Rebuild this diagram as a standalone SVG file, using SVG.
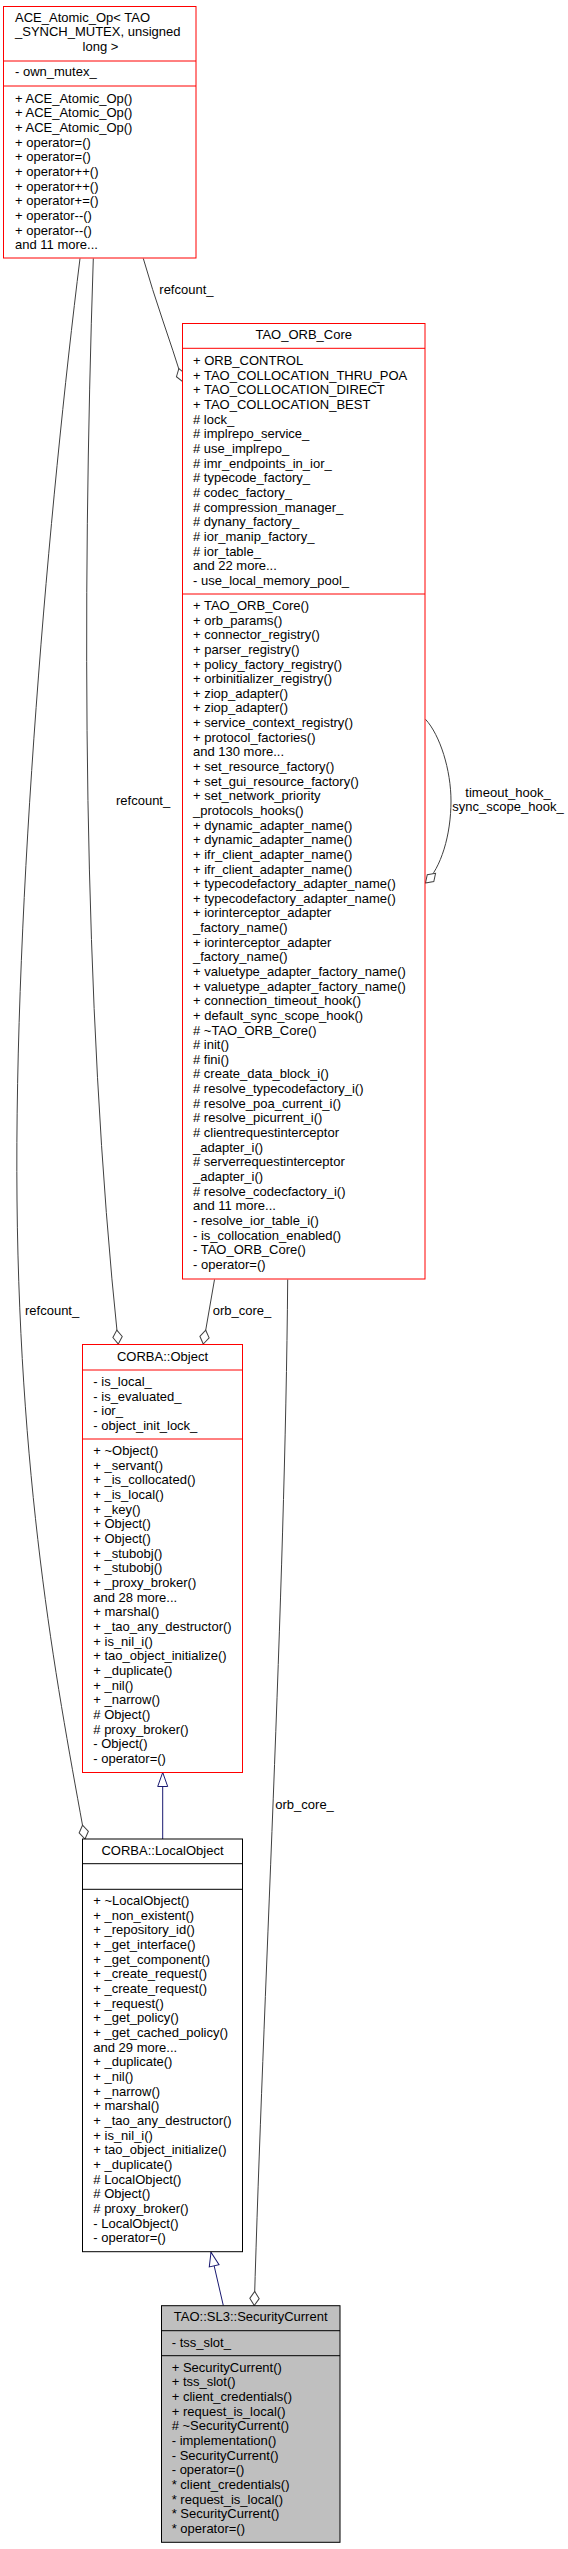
<svg xmlns="http://www.w3.org/2000/svg" width="568" height="2549" viewBox="0 0 568 2549">
<defs>
<style>
.t{font-family:"Liberation Sans",Arial,sans-serif;font-size:13px;fill:#000}
.c{text-anchor:middle}
.red{fill:#fff;stroke:#ff0000;stroke-width:1}
.redl{stroke:#ff0000;stroke-width:1}
.blk{fill:#fff;stroke:#000;stroke-width:1}
.gry{fill:#bfbfbf;stroke:#000;stroke-width:1}
.blkl{stroke:#000;stroke-width:1}
.agg{fill:none;stroke:#404040;stroke-width:1;marker-end:url(#dia)}
.inh{fill:none;stroke:#191970;stroke-width:1;marker-end:url(#tri)}
</style>
<marker id="dia" markerUnits="userSpaceOnUse" markerWidth="16" markerHeight="12" refX="0" refY="0" orient="auto" overflow="visible">
<path d="M0,0 L-7,-4.7 L-14,0 L-7,4.7 Z" fill="#fff" stroke="#404040" stroke-width="1"/>
</marker>
<marker id="tri" markerUnits="userSpaceOnUse" markerWidth="16" markerHeight="12" refX="0" refY="0" orient="auto" overflow="visible">
<path d="M0,0 L-14,-5 L-14,5 Z" fill="#fff" stroke="#191970" stroke-width="1"/>
</marker>
</defs>
<rect x="0" y="0" width="568" height="2549" fill="#fff"/>

<g id="connectors">
<path class="agg" d="M143.3,258.5 C155,300 170,340 183,382"/>
<path class="agg" d="M93.3,258.5 C82,600 82,1000 118.3,1344"/>
<path class="agg" d="M80,258.5 C50,500 14,900 17,1200 C20,1500 60,1700 85,1839"/>
<path class="agg" d="M214.5,1279.5 L203.3,1344"/>
<path class="agg" d="M287.7,1279.5 C285,1600 263,2000 254.3,2305.5"/>
<path class="agg" d="M425.5,719.3 C440,735 451,770 451,801 C451,835 441,868 425.5,883"/>
<path class="inh" d="M162.7,1839 L162.7,1772.5"/>
<path class="inh" d="M223.3,2305.5 L211,2252.2"/>
<text class="t" x="159.3" y="294">refcount_</text>
<text class="t" x="116" y="805">refcount_</text>
<text class="t" x="25" y="1315">refcount_</text>
<text class="t" x="212.7" y="1314.5">orb_core_</text>
<text class="t" x="275.3" y="1809">orb_core_</text>
<text class="t c" x="508" y="796.5">timeout_hook_</text>
<text class="t c" x="508" y="811.2">sync_scope_hook_</text>
</g>

<g id="ace_atomic_op">
<rect class="red" x="3.5" y="6.5" width="192.5" height="251.5"/>
<line class="redl" x1="3.5" y1="61" x2="196" y2="61"/>
<line class="redl" x1="3.5" y1="86" x2="196" y2="86"/>
<text class="t" x="15" y="21.7">ACE_Atomic_Op&lt; TAO</text>
<text class="t" x="15" y="36.4">_SYNCH_MUTEX, unsigned</text>
<text class="t c" x="100.5" y="51">long &gt;</text>
<text class="t" x="15" y="76">- own_mutex_</text>
<text class="t" x="15" y="102.7">+ ACE_Atomic_Op()<tspan x="15" dy="14.67">+ ACE_Atomic_Op()</tspan><tspan x="15" dy="14.67">+ ACE_Atomic_Op()</tspan><tspan x="15" dy="14.67">+ operator=()</tspan><tspan x="15" dy="14.67">+ operator=()</tspan><tspan x="15" dy="14.67">+ operator++()</tspan><tspan x="15" dy="14.67">+ operator++()</tspan><tspan x="15" dy="14.67">+ operator+=()</tspan><tspan x="15" dy="14.67">+ operator--()</tspan><tspan x="15" dy="14.67">+ operator--()</tspan><tspan x="15" dy="14.67">and 11 more...</tspan></text>
</g>

<g id="tao_orb_core">
<rect class="red" x="182.5" y="323.5" width="242.5" height="955.5"/>
<line class="redl" x1="182.5" y1="348.3" x2="425" y2="348.3"/>
<line class="redl" x1="182.5" y1="594" x2="425" y2="594"/>
<text class="t c" x="303.7" y="339">TAO_ORB_Core</text>
<text class="t" x="193" y="365">+ ORB_CONTROL<tspan x="193" dy="14.67">+ TAO_COLLOCATION_THRU_POA</tspan><tspan x="193" dy="14.67">+ TAO_COLLOCATION_DIRECT</tspan><tspan x="193" dy="14.67">+ TAO_COLLOCATION_BEST</tspan><tspan x="193" dy="14.67"># lock_</tspan><tspan x="193" dy="14.67"># implrepo_service_</tspan><tspan x="193" dy="14.67"># use_implrepo_</tspan><tspan x="193" dy="14.67"># imr_endpoints_in_ior_</tspan><tspan x="193" dy="14.67"># typecode_factory_</tspan><tspan x="193" dy="14.67"># codec_factory_</tspan><tspan x="193" dy="14.67"># compression_manager_</tspan><tspan x="193" dy="14.67"># dynany_factory_</tspan><tspan x="193" dy="14.67"># ior_manip_factory_</tspan><tspan x="193" dy="14.67"># ior_table_</tspan><tspan x="193" dy="14.67">and 22 more...</tspan><tspan x="193" dy="14.67">- use_local_memory_pool_</tspan></text>
<text class="t" x="193" y="610">+ TAO_ORB_Core()<tspan x="193" dy="14.64">+ orb_params()</tspan><tspan x="193" dy="14.64">+ connector_registry()</tspan><tspan x="193" dy="14.64">+ parser_registry()</tspan><tspan x="193" dy="14.64">+ policy_factory_registry()</tspan><tspan x="193" dy="14.64">+ orbinitializer_registry()</tspan><tspan x="193" dy="14.64">+ ziop_adapter()</tspan><tspan x="193" dy="14.64">+ ziop_adapter()</tspan><tspan x="193" dy="14.64">+ service_context_registry()</tspan><tspan x="193" dy="14.64">+ protocol_factories()</tspan><tspan x="193" dy="14.64">and 130 more...</tspan><tspan x="193" dy="14.64">+ set_resource_factory()</tspan><tspan x="193" dy="14.64">+ set_gui_resource_factory()</tspan><tspan x="193" dy="14.64">+ set_network_priority</tspan><tspan x="193" dy="14.64">_protocols_hooks()</tspan><tspan x="193" dy="14.64">+ dynamic_adapter_name()</tspan><tspan x="193" dy="14.64">+ dynamic_adapter_name()</tspan><tspan x="193" dy="14.64">+ ifr_client_adapter_name()</tspan><tspan x="193" dy="14.64">+ ifr_client_adapter_name()</tspan><tspan x="193" dy="14.64">+ typecodefactory_adapter_name()</tspan><tspan x="193" dy="14.64">+ typecodefactory_adapter_name()</tspan><tspan x="193" dy="14.64">+ iorinterceptor_adapter</tspan><tspan x="193" dy="14.64">_factory_name()</tspan><tspan x="193" dy="14.64">+ iorinterceptor_adapter</tspan><tspan x="193" dy="14.64">_factory_name()</tspan><tspan x="193" dy="14.64">+ valuetype_adapter_factory_name()</tspan><tspan x="193" dy="14.64">+ valuetype_adapter_factory_name()</tspan><tspan x="193" dy="14.64">+ connection_timeout_hook()</tspan><tspan x="193" dy="14.64">+ default_sync_scope_hook()</tspan><tspan x="193" dy="14.64"># ~TAO_ORB_Core()</tspan><tspan x="193" dy="14.64"># init()</tspan><tspan x="193" dy="14.64"># fini()</tspan><tspan x="193" dy="14.64"># create_data_block_i()</tspan><tspan x="193" dy="14.64"># resolve_typecodefactory_i()</tspan><tspan x="193" dy="14.64"># resolve_poa_current_i()</tspan><tspan x="193" dy="14.64"># resolve_picurrent_i()</tspan><tspan x="193" dy="14.64"># clientrequestinterceptor</tspan><tspan x="193" dy="14.64">_adapter_i()</tspan><tspan x="193" dy="14.64"># serverrequestinterceptor</tspan><tspan x="193" dy="14.64">_adapter_i()</tspan><tspan x="193" dy="14.64"># resolve_codecfactory_i()</tspan><tspan x="193" dy="14.64">and 11 more...</tspan><tspan x="193" dy="14.64">- resolve_ior_table_i()</tspan><tspan x="193" dy="14.64">- is_collocation_enabled()</tspan><tspan x="193" dy="14.64">- TAO_ORB_Core()</tspan><tspan x="193" dy="14.64">- operator=()</tspan></text>
</g>

<g id="corba_object">
<rect class="red" x="82.5" y="1344.5" width="160" height="428"/>
<line class="redl" x1="82.5" y1="1370" x2="242.5" y2="1370"/>
<line class="redl" x1="82.5" y1="1439" x2="242.5" y2="1439"/>
<text class="t c" x="162.5" y="1361">CORBA::Object</text>
<text class="t" x="93.3" y="1386">- is_local_<tspan x="93.3" dy="14.67">- is_evaluated_</tspan><tspan x="93.3" dy="14.67">- ior_</tspan><tspan x="93.3" dy="14.67">- object_init_lock_</tspan></text>
<text class="t" x="93.3" y="1455">+ ~Object()<tspan x="93.3" dy="14.67">+ _servant()</tspan><tspan x="93.3" dy="14.67">+ _is_collocated()</tspan><tspan x="93.3" dy="14.67">+ _is_local()</tspan><tspan x="93.3" dy="14.67">+ _key()</tspan><tspan x="93.3" dy="14.67">+ Object()</tspan><tspan x="93.3" dy="14.67">+ Object()</tspan><tspan x="93.3" dy="14.67">+ _stubobj()</tspan><tspan x="93.3" dy="14.67">+ _stubobj()</tspan><tspan x="93.3" dy="14.67">+ _proxy_broker()</tspan><tspan x="93.3" dy="14.67">and 28 more...</tspan><tspan x="93.3" dy="14.67">+ marshal()</tspan><tspan x="93.3" dy="14.67">+ _tao_any_destructor()</tspan><tspan x="93.3" dy="14.67">+ is_nil_i()</tspan><tspan x="93.3" dy="14.67">+ tao_object_initialize()</tspan><tspan x="93.3" dy="14.67">+ _duplicate()</tspan><tspan x="93.3" dy="14.67">+ _nil()</tspan><tspan x="93.3" dy="14.67">+ _narrow()</tspan><tspan x="93.3" dy="14.67"># Object()</tspan><tspan x="93.3" dy="14.67"># proxy_broker()</tspan><tspan x="93.3" dy="14.67">- Object()</tspan><tspan x="93.3" dy="14.67">- operator=()</tspan></text>
</g>

<g id="corba_localobject">
<rect class="blk" x="82.5" y="1839" width="160" height="412.7"/>
<line class="blkl" x1="82.5" y1="1863.7" x2="242.5" y2="1863.7"/>
<line class="blkl" x1="82.5" y1="1889.3" x2="242.5" y2="1889.3"/>
<text class="t c" x="162.5" y="1855">CORBA::LocalObject</text>
<text class="t" x="93.3" y="1905">+ ~LocalObject()<tspan x="93.3" dy="14.67">+ _non_existent()</tspan><tspan x="93.3" dy="14.67">+ _repository_id()</tspan><tspan x="93.3" dy="14.67">+ _get_interface()</tspan><tspan x="93.3" dy="14.67">+ _get_component()</tspan><tspan x="93.3" dy="14.67">+ _create_request()</tspan><tspan x="93.3" dy="14.67">+ _create_request()</tspan><tspan x="93.3" dy="14.67">+ _request()</tspan><tspan x="93.3" dy="14.67">+ _get_policy()</tspan><tspan x="93.3" dy="14.67">+ _get_cached_policy()</tspan><tspan x="93.3" dy="14.67">and 29 more...</tspan><tspan x="93.3" dy="14.67">+ _duplicate()</tspan><tspan x="93.3" dy="14.67">+ _nil()</tspan><tspan x="93.3" dy="14.67">+ _narrow()</tspan><tspan x="93.3" dy="14.67">+ marshal()</tspan><tspan x="93.3" dy="14.67">+ _tao_any_destructor()</tspan><tspan x="93.3" dy="14.67">+ is_nil_i()</tspan><tspan x="93.3" dy="14.67">+ tao_object_initialize()</tspan><tspan x="93.3" dy="14.67">+ _duplicate()</tspan><tspan x="93.3" dy="14.67"># LocalObject()</tspan><tspan x="93.3" dy="14.67"># Object()</tspan><tspan x="93.3" dy="14.67"># proxy_broker()</tspan><tspan x="93.3" dy="14.67">- LocalObject()</tspan><tspan x="93.3" dy="14.67">- operator=()</tspan></text>
</g>

<g id="tao_sl3_securitycurrent">
<rect class="gry" x="161.5" y="2305.7" width="178.5" height="236.6"/>
<line class="blkl" x1="161.5" y1="2330.7" x2="340" y2="2330.7"/>
<line class="blkl" x1="161.5" y1="2355.7" x2="340" y2="2355.7"/>
<text class="t c" x="250.7" y="2320.7">TAO::SL3::SecurityCurrent</text>
<text class="t" x="171.7" y="2346.7">- tss_slot_</text>
<text class="t" x="171.7" y="2371.7">+ SecurityCurrent()<tspan x="171.7" dy="14.67">+ tss_slot()</tspan><tspan x="171.7" dy="14.67">+ client_credentials()</tspan><tspan x="171.7" dy="14.67">+ request_is_local()</tspan><tspan x="171.7" dy="14.67"># ~SecurityCurrent()</tspan><tspan x="171.7" dy="14.67">- implementation()</tspan><tspan x="171.7" dy="14.67">- SecurityCurrent()</tspan><tspan x="171.7" dy="14.67">- operator=()</tspan><tspan x="171.7" dy="14.67">* client_credentials()</tspan><tspan x="171.7" dy="14.67">* request_is_local()</tspan><tspan x="171.7" dy="14.67">* SecurityCurrent()</tspan><tspan x="171.7" dy="14.67">* operator=()</tspan></text>
</g>
</svg>
